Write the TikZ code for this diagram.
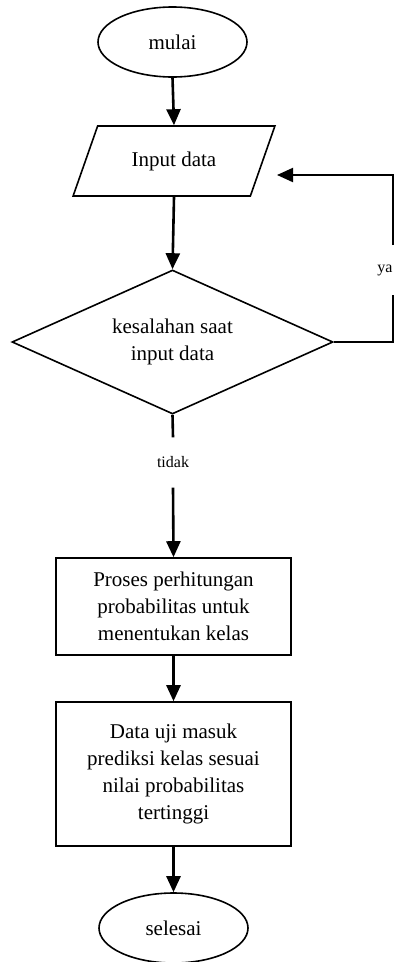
\documentclass[tikz,border=0pt]{standalone}
\usepackage{fontspec}
\setmainfont{Liberation Serif}
\usetikzlibrary{shapes.geometric,arrows.meta}
\begin{document}
\begin{tikzpicture}[x=1pt,y=-1pt,
  txt/.style={font=\fontsize{21}{27}\selectfont,align=center,inner sep=0pt},
  lbl/.style={font=\fontsize{16}{19}\selectfont,inner sep=0pt},
  shp/.style={draw,line width=1.6pt,txt},
  term/.style={shp,ellipse,minimum width=149pt,minimum height=70pt},
  io/.style={shp,trapezium,trapezium stretches=true,trapezium left angle=54.5,
    trapezium right angle=125.5,minimum width=202pt,minimum height=70pt},
  decide/.style={shp,diamond,aspect=2.23,minimum width=321pt,minimum height=144pt},
  procbox/.style={shp,rectangle,minimum width=235pt},
  flow/.style={line width=2.6pt,-{Triangle[length=16pt,width=14pt]}},
  plain/.style={line width=2.6pt},
  loopline/.style={line width=2pt}]
\useasboundingbox (0,0) rectangle (403,962);

% nodes
\node[term] (mulai) at (172.5,42) {mulai};
\node[io] (inp) at (174,161) {Input data};
\node[decide] (dec) at (172.5,342) {kesalahan saat\\input data};
\node[lbl,minimum height=50pt] (tidak) at (173,462.5) {tidak};
\node[procbox,minimum height=97pt] (proses) at (173.5,606.5)
  {Proses perhitungan\\probabilitas untuk\\menentukan kelas};
\node[procbox,minimum height=144pt] (uji) at (173.5,774)
  {Data uji masuk\\prediksi kelas sesuai\\nilai probabilitas\\tertinggi};
\node[term] (selesai) at (173.5,928) {selesai};
\node[lbl] (ya) at (385,270) {ya};

% loop-back coordinates on the right
\coordinate (yaLow) at (393,295);
\coordinate (yaHigh) at (393,245);
\coordinate (back) at (277,175);

% connectors
\draw[flow] (mulai.south) -- (inp.north);
\draw[flow] (inp.south) -- (dec.north);
\draw[loopline] (dec.east) -| (yaLow);
\draw[loopline,-{Triangle[length=16pt,width=14pt]}] (yaHigh) |- (back);
\draw[plain] (dec.south) -- (tidak.north);
\draw[flow] (tidak.south) -- (proses.north);
\draw[flow] (proses.south) -- (uji.north);
\draw[flow] (uji.south) -- (selesai.north);
\end{tikzpicture}
\end{document}
